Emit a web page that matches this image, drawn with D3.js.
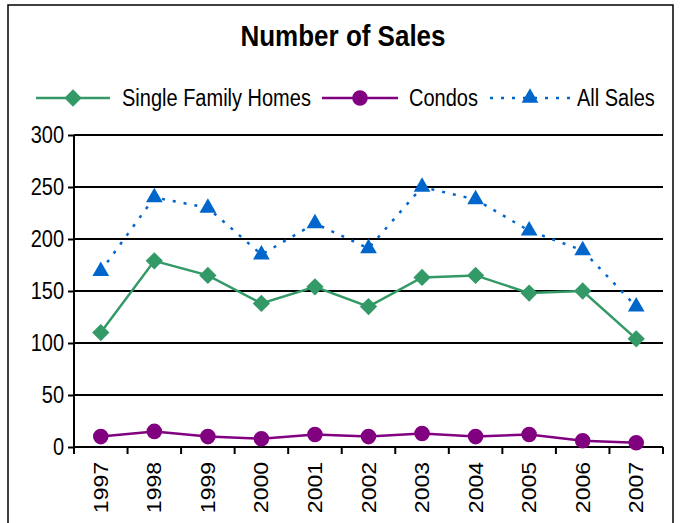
<!doctype html>
<html lang="en">
<head>
  <meta charset="UTF-8">
  <title>Number of Sales</title>
<style>
  body { margin: 0; background: #fff; }
  text { font-family: "Liberation Sans", Arial, sans-serif; fill: #000; }
  .grid line { stroke: #000; stroke-width: 2px; }
  .axis path, .axis line { stroke: #000; stroke-width: 2px; fill: none; }
  .axis text { font-size: 20px; }
</style>
</head>
<body>
<script src="https://d3js.org/d3.v7.min.js"></script>
<script>
var years = ["1997","1998","1999","2000","2001","2002","2003","2004","2005","2006","2007"];
var singleFamily = [110, 179, 165, 138, 154, 135, 163, 165, 148, 150, 104];
var condos = [10, 15, 10, 8, 12, 10, 13, 10, 12, 6, 4];
var allSales = [169, 240, 230, 185, 215, 191, 250, 238, 208, 189, 135];
var yTicks = [0, 50, 100, 150, 200, 250, 300];

var W = 680, H = 523;
var STRETCH = 1.15; // text in the source is drawn a bit tall
var margin = {top: 135, left: 74},
    width = 663 - margin.left,
    height = 447 - margin.top;

var svg = d3.select("body").append("svg")
    .attr("width", W)
    .attr("height", H);

// outer frame
svg.append("rect")
    .attr("x", 8).attr("y", 5)
    .attr("width", 665).attr("height", 530)
    .attr("fill", "none").attr("stroke", "#000").attr("stroke-width", 1.5);

svg.append("text")
    .attr("transform", "translate(343,46) scale(1," + STRETCH + ")")
    .attr("text-anchor", "middle")
    .style("font-size", "26px").style("font-weight", "bold")
    .text("Number of Sales");

var g = svg.append("g")
    .attr("transform", "translate(" + margin.left + "," + margin.top + ")");

var x = d3.scaleBand().domain(years).range([0, width]);
var y = d3.scaleLinear().domain([0, 300]).range([height, 0]);

g.append("g").attr("class", "grid")
  .selectAll("line").data(yTicks.slice(1)).enter().append("line")
    .attr("x1", 0).attr("x2", width)
    .attr("y1", function(d) { return y(d); })
    .attr("y2", function(d) { return y(d); });

var yAxis = g.append("g").attr("class", "axis")
    .call(d3.axisLeft(y).tickValues(yTicks).tickSizeInner(6).tickSizeOuter(0).tickPadding(4));
yAxis.select(".domain").attr("d", "M0," + height + "V0");
yAxis.selectAll(".tick text")
    .attr("x", null).attr("dy", null)
    .attr("transform", "translate(-10,7) scale(1," + STRETCH + ")");

var xAxis = g.append("g").attr("class", "axis")
    .attr("transform", "translate(0," + height + ")")
    .call(d3.axisBottom(x).tickSize(0).tickPadding(0));
xAxis.select(".domain").attr("d", "M0,0H" + width);
xAxis.selectAll(".tick line").remove();
xAxis.selectAll(".tick text")
    .attr("y", null).attr("dy", null)
    .attr("transform", "translate(7,15) rotate(-90) scale(" + STRETCH + ",1)")
    .style("text-anchor", "end");
// category boundary ticks
xAxis.selectAll(".bound").data(d3.range(years.length + 1)).enter().append("line")
    .attr("class", "bound")
    .attr("x1", function(i) { return i * x.step(); })
    .attr("x2", function(i) { return i * x.step(); })
    .attr("y1", 0).attr("y2", 7);

var cx = function(d, i) { return x(years[i]) + x.bandwidth() / 2; };

function drawSeries(vals, color, dash) {
  var line = d3.line().x(cx).y(function(d) { return y(d); });
  g.append("path").datum(vals)
      .attr("fill", "none").attr("stroke", color)
      .attr("stroke-width", 2.5)
      .attr("stroke-dasharray", dash)
      .attr("d", line);
}

drawSeries(singleFamily, "#339966", null);
drawSeries(condos, "#800080", null);
drawSeries(allSales, "#0066CC", "3,8");

var diamond = d3.symbol().type(d3.symbolDiamond2).size(190);
var circle = d3.symbol().type(d3.symbolCircle).size(190);
var triangle = d3.symbol().type(d3.symbolTriangle2).size(200);

function drawMarkers(vals, sym, color) {
  g.selectAll(null).data(vals).enter().append("path")
      .attr("d", sym)
      .attr("fill", color)
      .attr("transform", function(d, i) { return "translate(" + cx(d, i) + "," + y(d) + ")"; });
}
drawMarkers(singleFamily, diamond, "#339966");
drawMarkers(condos, circle, "#800080");
drawMarkers(allSales, triangle, "#0066CC");

// legend
var legend = [
  {name: "Single Family Homes", color: "#339966", sym: diamond, dash: null, x0: 36, x1: 110, tx: 122},
  {name: "Condos", color: "#800080", sym: circle, dash: null, x0: 322, x1: 398, tx: 409},
  {name: "All Sales", color: "#0066CC", sym: triangle, dash: "3,8", x0: 490, x1: 570, tx: 577}
];
var lg = svg.append("g").selectAll("g").data(legend).enter().append("g");
lg.append("line")
    .attr("x1", function(d) { return d.x0; }).attr("x2", function(d) { return d.x1; })
    .attr("y1", 98).attr("y2", 98)
    .attr("stroke", function(d) { return d.color; })
    .attr("stroke-width", 2.5)
    .attr("stroke-dasharray", function(d) { return d.dash; });
lg.append("path")
    .attr("d", function(d) { return d.sym(); })
    .attr("fill", function(d) { return d.color; })
    .attr("transform", function(d) { return "translate(" + (d.x0 + d.x1) / 2 + ",98)"; });
lg.append("text")
    .attr("transform", function(d) { return "translate(" + d.tx + ",106) scale(1," + STRETCH + ")"; })
    .style("font-size", "20px")
    .text(function(d) { return d.name; });
</script>
</body>
</html>
